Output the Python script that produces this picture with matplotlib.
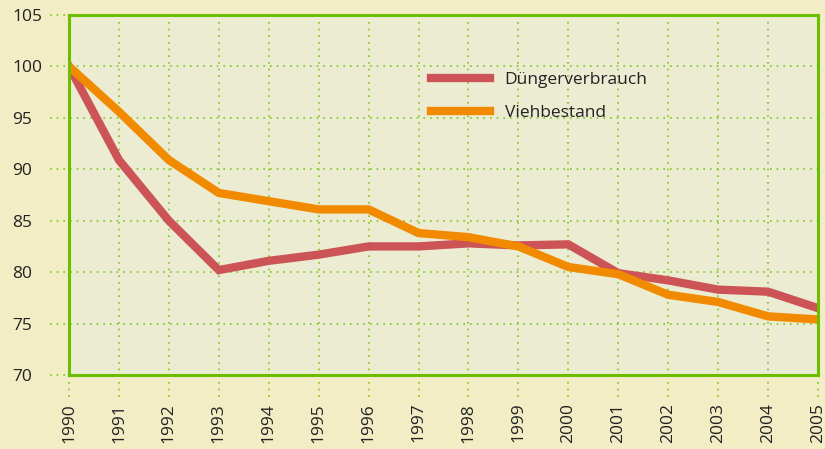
import matplotlib
matplotlib.use("Agg")
import matplotlib.pyplot as plt
import matplotlib.transforms as mtransforms

years = list(range(1990, 2006))
duenger = [100, 90.9, 85.0, 80.2, 81.1, 81.7, 82.5, 82.5, 82.8, 82.6, 82.7, 79.9, 79.2, 78.3, 78.1, 76.5]
vieh = [100, 95.6, 90.9, 87.7, 86.9, 86.1, 86.1, 83.8, 83.4, 82.5, 80.5, 79.8, 77.8, 77.1, 75.7, 75.4]
yticks = [70, 75, 80, 85, 90, 95, 100, 105]

plt.rcParams['font.family'] = ['Open Sans', 'DejaVu Sans']
FS = 12.5

fig = plt.figure(figsize=(8.25, 4.49), dpi=100, facecolor='#F2EDC5')
ax = fig.add_axes([69/825, 1-375/449, (818-69)/825, (375-15)/449])
ax.set_facecolor('#ECECD2')

grid_col = '#7DC520'
# dotted grid lines, extended outside the axes
tx = mtransforms.blended_transform_factory(ax.transData, ax.transAxes)
ty = mtransforms.blended_transform_factory(ax.transAxes, ax.transData)
for yv in yticks:
    ax.plot([-19/749, 1], [yv, yv], transform=ty, color=grid_col, lw=1.2,
            ls=(0, (1, 3)), clip_on=False, zorder=1)
for xv in years:
    ax.plot([xv, xv], [-22/360, 1], transform=tx, color=grid_col, lw=1.2,
            ls=(0, (1, 3)), clip_on=False, zorder=1)

ax.plot(years, duenger, color='#CC5457', lw=6, label='Düngerverbrauch', zorder=3,
        solid_joinstyle='miter')
ax.plot(years, vieh, color='#F28A00', lw=6, label='Viehbestand', zorder=4,
        solid_joinstyle='miter')

ax.set_xlim(1990, 2005)
ax.set_ylim(70, 105)
ax.set_xticks(years)
ax.set_xticklabels([str(y) for y in years], rotation=90, fontsize=FS, color='#222222')
ax.set_yticks(yticks)
ax.set_yticklabels([str(y) for y in yticks], fontsize=FS, color='#222222')
for lab in ax.get_yticklabels():
    lab.set_ha('left')
ax.tick_params(axis='y', length=0, pad=41)
ax.tick_params(axis='x', length=0, pad=20)

for s in ax.spines.values():
    s.set_color('#6CBF00')
    s.set_linewidth(2.2)
    s.set_zorder(5)

leg = ax.legend(loc='upper left', bbox_to_anchor=(0.483, 0.842), frameon=False,
                fontsize=FS, handlelength=3.4, handletextpad=0.86, labelspacing=0.95,
                borderpad=0, borderaxespad=0)
for t in leg.get_texts():
    t.set_color('#222222')

fig.savefig('out.png', dpi=100, facecolor=fig.get_facecolor())
